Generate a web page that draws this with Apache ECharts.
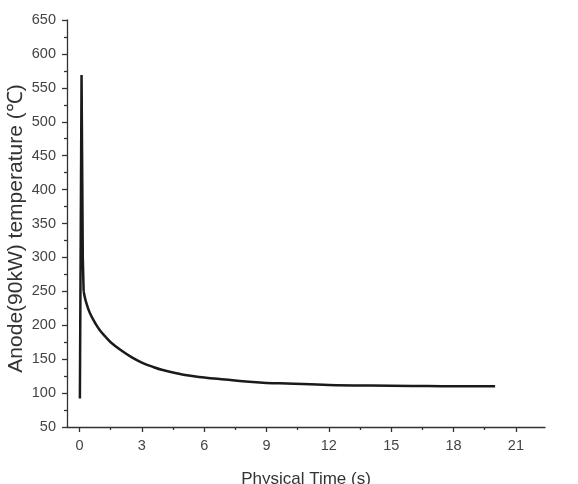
<!DOCTYPE html>
<html>
<head>
<meta charset="utf-8">
<script src="https://cdn.jsdelivr.net/npm/echarts@6/dist/echarts.min.js"></script>
<style>html,body{margin:0;padding:0;background:#fff;}#c{width:578px;height:484px;}</style>
</head>
<body>
<div id="c"></div>
<script>
var spikeTimes = [0.02, 0.1, 0.16, 0.2];
var spikeTemps = [92, 569, 300, 250];
var decayTimes = [0.2, 0.3, 0.5, 0.8, 1.0, 1.25, 1.5, 2.0, 2.5, 3.0, 3.5, 4.0, 5.0, 6.0, 7.0, 8.0, 9.0, 10, 12, 14, 16, 18, 20];
var decayTemps = [250, 236, 218, 201, 192, 183, 175, 163, 153, 145, 139, 134, 127, 123, 120, 117, 115, 114, 112, 111, 110.5, 110, 110];
var xMajorTicks = [0, 3, 6, 9, 12, 15, 18, 21];
var xMinorTicks = [1.5, 4.5, 7.5, 10.5, 13.5, 16.5, 19.5];
var yMin = 50, yMax = 650, yStep = 50;
var xMin = -0.6, xMax = 22.4;

function zip(a, b) { return a.map(function (t, i) { return [t, b[i]]; }); }
var font = 'Liberation Sans, Arial, sans-serif';
var axisColor = '#333';
var chart = echarts.init(document.getElementById('c'), null, {renderer: 'canvas'});
chart.setOption({
  animation: false,
  backgroundColor: '#fff',
  grid: {left: 67, right: 33, top: 20, bottom: 57, containLabel: false, outerBoundsMode: 'none'},
  xAxis: [{
    type: 'value', min: xMin, max: xMax, position: 'bottom',
    name: 'Physical Time (s)', nameLocation: 'middle', nameGap: 44, nameMoveOverlap: false,
    nameTextStyle: {fontFamily: font, fontSize: 17, color: '#333'},
    axisLine: {show: true, onZero: false, lineStyle: {color: axisColor, width: 1.3}},
    axisTick: {show: true, customValues: xMajorTicks, length: 5, lineStyle: {color: axisColor, width: 1.3}},
    axisLabel: {show: true, customValues: xMajorTicks, margin: 11, fontFamily: font, fontSize: 14.5, color: '#444'},
    splitLine: {show: false}
  }, {
    type: 'value', min: xMin, max: xMax, position: 'bottom',
    axisLine: {show: false, onZero: false},
    axisTick: {show: true, customValues: xMinorTicks, length: 3, lineStyle: {color: axisColor, width: 1.3}},
    axisLabel: {show: false},
    splitLine: {show: false}
  }],
  yAxis: {
    type: 'value', min: yMin, max: yMax, interval: yStep,
    name: 'Anode(90kW) temperature (\u2103)', nameLocation: 'middle', nameGap: 40, nameRotate: 90, nameMoveOverlap: false,
    nameTextStyle: {fontFamily: font, fontSize: 21, color: '#333', padding: [0, 10, 0, 0]},
    axisLine: {show: true, onZero: false, lineStyle: {color: axisColor, width: 1.3}},
    axisTick: {show: true, length: 5, lineStyle: {color: axisColor, width: 1.3}},
    minorTick: {show: true, splitNumber: 2, length: 3, lineStyle: {color: axisColor, width: 1.3}},
    axisLabel: {margin: 11, fontFamily: font, fontSize: 14.5, color: '#444'},
    splitLine: {show: false}
  },
  series: [{
    type: 'line', xAxisIndex: 0, data: zip(spikeTimes, spikeTemps), showSymbol: false, smooth: false,
    lineStyle: {color: '#1a1a1a', width: 2.5}
  }, {
    type: 'line', xAxisIndex: 0, data: zip(decayTimes, decayTemps), showSymbol: false, smooth: 0.4,
    lineStyle: {color: '#1a1a1a', width: 2.5}
  }]
});
</script>
</body>
</html>
